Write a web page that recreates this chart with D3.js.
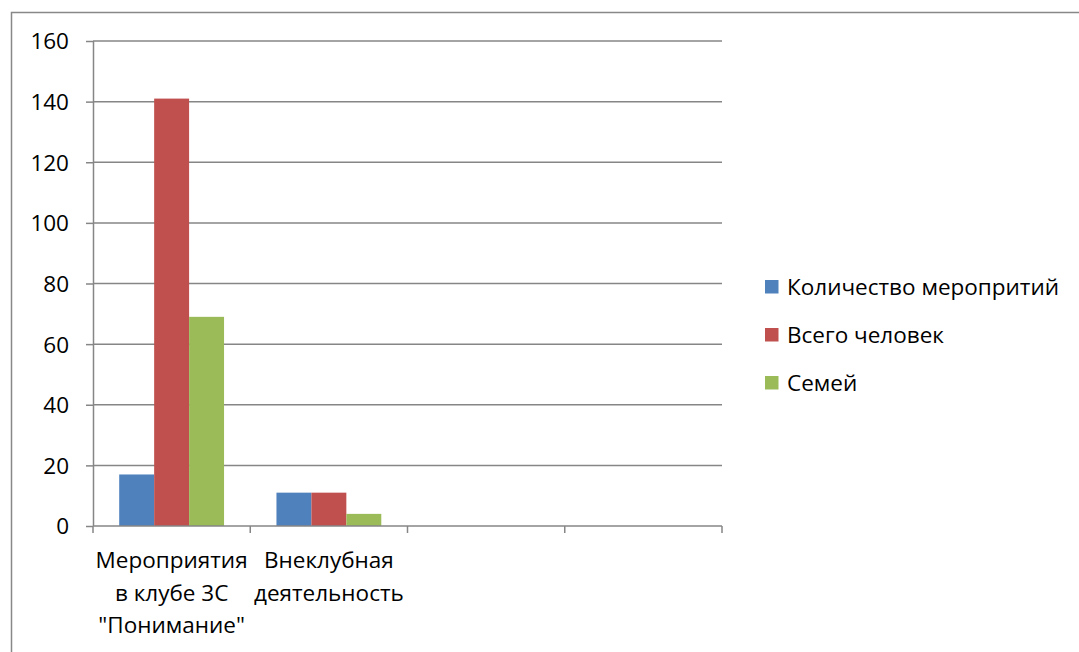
<!DOCTYPE html>
<html><head><meta charset="utf-8">
<script src="https://cdn.jsdelivr.net/npm/d3@7"></script>
<style>body{margin:0;background:#fff}svg{display:block}text{font-family:"Open Sans","Noto Sans",sans-serif;fill:#000}</style>
</head><body><svg id="c" width="1079" height="652"></svg>
<script>
const categories = [["Мероприятия","в клубе 3С","\"Понимание\""],["Внеклубная","деятельность"],[""],[""]];
const seriesNames = ["Количество меропритий","Всего человек","Семей"];
const seriesColors = ["#4F81BD","#C0504D","#9BBB59"];
const values = [[17,11,null,null],[141,11,null,null],[69,4,null,null]];
const yTicks = [0,20,40,60,80,100,120,140,160];

const FS = 22.5;
const svg = d3.select("#c");
// outer frame
svg.append("path").attr("d","M11.5,660 V12.5 H1090").attr("fill","none").attr("stroke","#888").attr("stroke-width",1.5);

const x0=93, x1=722, yTop=41, yBot=526;
const x = d3.scaleBand().domain(d3.range(categories.length)).range([x0,x1]).paddingInner(0).paddingOuter(0);
const y = d3.scaleLinear().domain([0,160]).range([yBot,yTop]);
const bw = x.bandwidth()/4.5;
const xs = d3.scaleBand().domain(d3.range(3)).range([0.75*bw, 3.75*bw]);

// gridlines + y ticks
const ya = svg.append("g").attr("transform",`translate(${x0},0)`)
  .call(d3.axisLeft(y).tickValues(yTicks).tickSize(7).tickFormat(d3.format("d")));
ya.select(".domain").attr("stroke","#868686").attr("stroke-width",1.5).attr("d",`M0.5,${yTop}V${yBot}`);
ya.selectAll(".tick line").attr("stroke","#868686").attr("stroke-width",1.5);
ya.selectAll(".tick text").attr("x",-24).attr("font-size",FS).attr("dy","0.35em").style("font-family","'Open Sans'");
svg.append("g").selectAll("line").data(yTicks.filter(d=>d>0)).join("line")
  .attr("x1",x0).attr("x2",x1).attr("y1",d=>y(d)).attr("y2",d=>y(d))
  .attr("stroke","#868686").attr("stroke-width",1.5);

// bars
values.forEach((vals,si)=>{
  svg.append("g").selectAll("rect").data(vals.map((v,i)=>({v,i})).filter(d=>d.v!=null)).join("rect")
    .attr("x",d=>x(d.i)+xs(si)).attr("width",xs.bandwidth())
    .attr("y",d=>y(d.v)).attr("height",d=>yBot-y(d.v))
    .attr("fill",seriesColors[si]);
});

// x axis
svg.append("line").attr("x1",x0).attr("x2",x1).attr("y1",yBot).attr("y2",yBot).attr("stroke","#868686").attr("stroke-width",1.5);
const xt = d3.range(categories.length+1).map(i=> i<categories.length ? x(i) : x1);
svg.append("g").selectAll("line").data(xt).join("line")
  .attr("x1",d=>d).attr("x2",d=>d).attr("y1",yBot).attr("y2",yBot+7)
  .attr("stroke","#868686").attr("stroke-width",1.5);
categories.forEach((lines,i)=>{
  const cx = x(i)+x.bandwidth()/2;
  const t = svg.append("text").attr("text-anchor","middle").attr("font-size",FS);
  lines.forEach((l,j)=>t.append("tspan").attr("x",cx).attr("y",568+j*32.5).text(l));
});

// legend
const lg = svg.append("g");
seriesNames.forEach((n,i)=>{
  const yy = 287+i*48;
  lg.append("rect").attr("x",765).attr("y",yy-7).attr("width",13.5).attr("height",13.5).attr("fill",seriesColors[i]);
  lg.append("text").attr("x",787).attr("y",yy).attr("dy","0.35em").attr("font-size",FS).text(n);
});
</script></body></html>
